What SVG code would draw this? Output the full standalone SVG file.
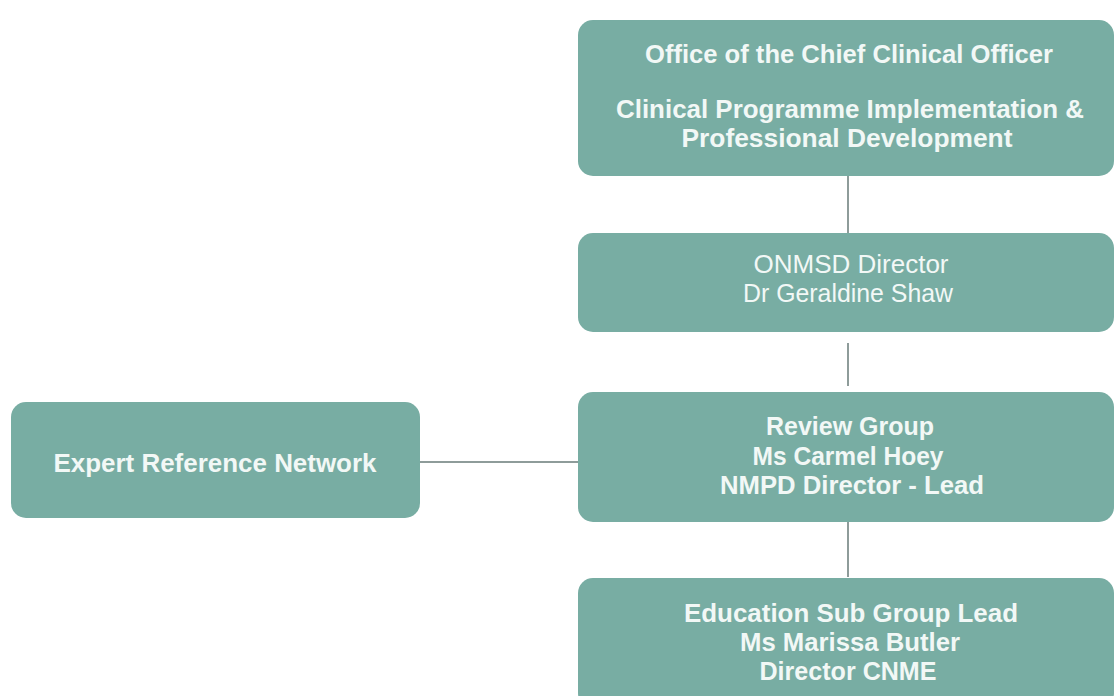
<svg xmlns="http://www.w3.org/2000/svg" width="1117" height="696" viewBox="0 0 1117 696">
<style>
.box{fill:#78ada3;}
.t{font-family:"Liberation Sans",Arial,sans-serif;font-size:25px;fill:#f2f8f6;text-anchor:middle;}
.b{font-weight:bold;}
.c{stroke:#8e9c9a;stroke-width:2;fill:none;}
</style>
<rect width="1117" height="696" fill="#ffffff"/>
<g id="connectors">
<line class="c" x1="848" y1="176" x2="848" y2="233"/>
<line class="c" x1="848" y1="343" x2="848" y2="386"/>
<line class="c" x1="848" y1="522" x2="848" y2="577"/>
<line class="c" x1="420" y1="462" x2="578" y2="462"/>
</g>
<g id="office">
<rect class="box" x="578" y="20" width="536" height="156" rx="15"/>
<text class="t b" x="849" y="63" textLength="408" lengthAdjust="spacingAndGlyphs">Office of the Chief Clinical Officer</text>
<text class="t b" x="850" y="118" textLength="468" lengthAdjust="spacingAndGlyphs">Clinical Programme Implementation &amp;</text>
<text class="t b" x="847" y="147" textLength="331" lengthAdjust="spacingAndGlyphs">Professional Development</text>
</g>
<g id="onmsd">
<rect class="box" x="578" y="233" width="536" height="99" rx="15"/>
<text class="t" x="851" y="273" textLength="195" lengthAdjust="spacingAndGlyphs">ONMSD Director</text>
<text class="t" x="848" y="302" textLength="210" lengthAdjust="spacingAndGlyphs">Dr Geraldine Shaw</text>
</g>
<g id="review">
<rect class="box" x="578" y="392" width="536" height="130" rx="15"/>
<text class="t b" x="850" y="435" textLength="168" lengthAdjust="spacingAndGlyphs">Review Group</text>
<text class="t b" x="848" y="465" textLength="191" lengthAdjust="spacingAndGlyphs">Ms Carmel Hoey</text>
<text class="t b" x="852" y="494" textLength="264" lengthAdjust="spacingAndGlyphs">NMPD Director - Lead</text>
</g>
<g id="education">
<rect class="box" x="578" y="578" width="536" height="130" rx="15"/>
<text class="t b" x="851" y="622" textLength="334" lengthAdjust="spacingAndGlyphs">Education Sub Group Lead</text>
<text class="t b" x="850" y="651" textLength="220" lengthAdjust="spacingAndGlyphs">Ms Marissa Butler</text>
<text class="t b" x="848" y="680" textLength="177" lengthAdjust="spacingAndGlyphs">Director CNME</text>
</g>
<g id="expert">
<rect class="box" x="11" y="402" width="409" height="116" rx="15"/>
<text class="t b" x="215" y="472" textLength="323" lengthAdjust="spacingAndGlyphs">Expert Reference Network</text>
</g>
</svg>
